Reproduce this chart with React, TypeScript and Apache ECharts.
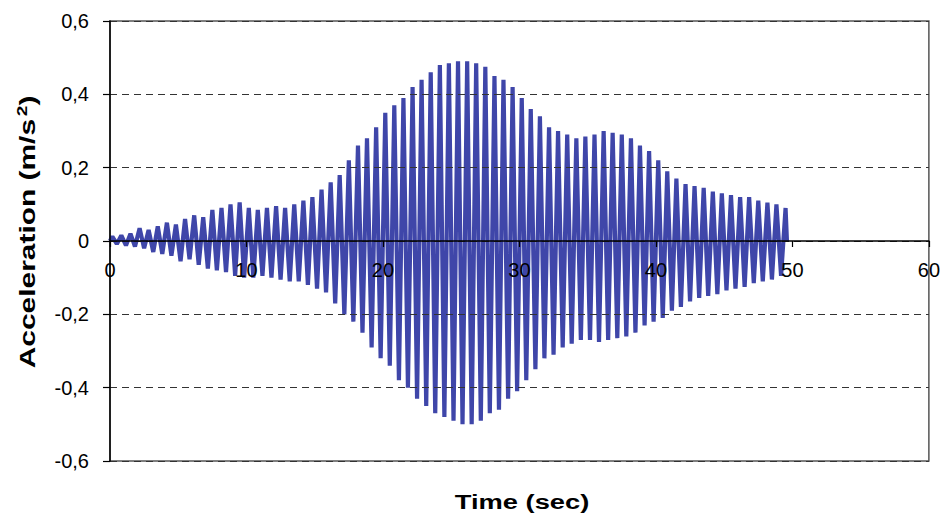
import React, { useEffect, useRef } from "react";
import * as echarts from "echarts";

const onsetPhase: [number, number][] = [
  [0, 0],
  [0.17, 0.012], [0.5, -0.008], [0.83, 0.015],
  [1.17, -0.012], [1.5, 0.02], [1.83, -0.015],
  [2.17, 0.035], [2.5, -0.02], [2.83, 0.03],
  [3.17, -0.03], [3.5, 0.04], [3.83, -0.035],
  [4.17, 0.05], [4.5, -0.04], [4.83, 0.045],
  [5.17, -0.055], [5.5, 0.06], [5.83, -0.05],
  [6.17, 0.07], [6.5, -0.065], [6.83, 0.065],
  [7.17, -0.075], [7.5, 0.085], [7.83, -0.08],
  [8.17, 0.09], [8.5, -0.085], [8.83, 0.1],
  [9.17, -0.095], [9.5, 0.105], [9.83, -0.1],
  [10.17, 0.09], [10.5, -0.1], [10.83, 0.085],
  [11.17, -0.095], [11.5, 0.09], [11.83, -0.1],
  [12.17, 0.095], [12.5, -0.105], [12.83, 0.09],
  [13.17, -0.11], [13.5, 0.1], [13.83, -0.11],
  [14.17, 0.11], [14.5, -0.12], [14.83, 0.12],
];

const strongPhase: [number, number][] = [
  [15.17, -0.13], [15.5, 0.14], [15.83, -0.14],
  [16.17, 0.16], [16.5, -0.17], [16.83, 0.18],
  [17.17, -0.2], [17.5, 0.22], [17.83, -0.22],
  [18.17, 0.26], [18.5, -0.25], [18.83, 0.28],
  [19.17, -0.29], [19.5, 0.31], [19.83, -0.32],
  [20.17, 0.35], [20.5, -0.34], [20.83, 0.37],
  [21.17, -0.38], [21.5, 0.39], [21.83, -0.4],
  [22.17, 0.42], [22.5, -0.43], [22.83, 0.44],
  [23.17, -0.45], [23.5, 0.46], [23.83, -0.47],
  [24.17, 0.48], [24.5, -0.48], [24.83, 0.485],
  [25.17, -0.49], [25.5, 0.49], [25.83, -0.5],
  [26.17, 0.49], [26.5, -0.5], [26.83, 0.485],
  [27.17, -0.49], [27.5, 0.475], [27.83, -0.47],
  [28.17, 0.45], [28.5, -0.46], [28.83, 0.44],
  [29.17, -0.43], [29.5, 0.42], [29.83, -0.41],
  [30.17, 0.39], [30.5, -0.38], [30.83, 0.36],
];

const codaPhase: [number, number][] = [
  [31.17, -0.35], [31.5, 0.34], [31.83, -0.32],
  [32.17, 0.31], [32.5, -0.31], [32.83, 0.3],
  [33.17, -0.29], [33.5, 0.29], [33.83, -0.28],
  [34.17, 0.28], [34.5, -0.27], [34.83, 0.285],
  [35.17, -0.27], [35.5, 0.29], [35.83, -0.275],
  [36.17, 0.3], [36.5, -0.27], [36.83, 0.295],
  [37.17, -0.265], [37.5, 0.29], [37.83, -0.26],
  [38.17, 0.28], [38.5, -0.25], [38.83, 0.26],
  [39.17, -0.23], [39.5, 0.245], [39.83, -0.22],
  [40.17, 0.22], [40.5, -0.21], [40.83, 0.19],
  [41.17, -0.19], [41.5, 0.17], [41.83, -0.18],
  [42.17, 0.155], [42.5, -0.165], [42.83, 0.15],
  [43.17, -0.155], [43.5, 0.145], [43.83, -0.15],
  [44.17, 0.135], [44.5, -0.145], [44.83, 0.13],
  [45.17, -0.135], [45.5, 0.125], [45.83, -0.13],
  [46.17, 0.12], [46.5, -0.125], [46.83, 0.12],
  [47.17, -0.115], [47.5, 0.11], [47.83, -0.11],
  [48.17, 0.105], [48.5, -0.105], [48.83, 0.1],
  [49.17, -0.095], [49.5, 0.09], [49.6, 0],
];

const X_MIN = 0;
const X_MAX = 60;
const X_STEP = 10;
const Y_MIN = -0.6;
const Y_MAX = 0.6;
const Y_STEP = 0.2;

const X_TITLE = "Time (sec)";
const Y_TITLE = "Acceleration (m/s{sup|2})";

const FONT = "'Liberation Sans', Arial, Helvetica, sans-serif";

const GRID_TOP = 21;
const GRID_BOTTOM = 65;
const CHART_H = 526;

export default function App() {
  const ref = useRef<HTMLDivElement>(null);

  useEffect(() => {
    if (!ref.current) return;
    const chart = echarts.init(ref.current, undefined, { renderer: "svg" });
    const data = [...onsetPhase, ...strongPhase, ...codaPhase];
    // move the x axis (line, ticks, labels) up from the grid bottom to y = 0
    const plotH = CHART_H - GRID_TOP - GRID_BOTTOM;
    const zeroShift = -(plotH * (0 - Y_MIN)) / (Y_MAX - Y_MIN);

    chart.setOption({
      animation: false,
      backgroundColor: "#ffffff",
      grid: {
        left: 110,
        right: 10,
        top: GRID_TOP,
        bottom: GRID_BOTTOM,
        show: true,
        borderColor: "#555555",
        borderWidth: 1.5,
        backgroundColor: "transparent",
      },
      xAxis: {
        type: "value",
        min: X_MIN,
        max: X_MAX,
        interval: X_STEP,
        z: 5,
        offset: zeroShift,
        axisLine: { show: true, onZero: false, lineStyle: { color: "#000", width: 1.5 } },
        axisTick: { show: true, length: 6, lineStyle: { color: "#000", width: 1.2 } },
        axisLabel: {
          show: true,
          margin: 19,
          color: "#000",
          fontSize: 20,
          fontFamily: FONT,
          showMinLabel: true,
          showMaxLabel: true,
        },
        splitLine: { show: false },
      },
      yAxis: {
        type: "value",
        min: Y_MIN,
        max: Y_MAX,
        interval: Y_STEP,
        z: 5,
        axisLine: { show: true, lineStyle: { color: "#000", width: 1.5 } },
        axisTick: { show: true, length: 7, lineStyle: { color: "#000", width: 1.2 } },
        axisLabel: {
          margin: 21,
          color: "#000",
          fontSize: 20,
          fontFamily: FONT,
          formatter: (v: number) =>
            Math.abs(v) < 1e-9 ? "0" : v.toFixed(1).replace(".", ","),
        },
        splitLine: {
          show: true,
          lineStyle: { color: "#333333", width: 1, type: [7, 5] },
        },
      },
      series: [
        {
          type: "line",
          data,
          showSymbol: false,
          symbol: "none",
          silent: true,
          z: 2,
          lineStyle: { color: "#3F46A9", width: 4.2, join: "bevel" },
        },
      ],
      graphic: [
        {
          type: "text",
          x: 522,
          y: 502,
          scaleX: 1.3,
          style: {
            text: X_TITLE,
            font: `bold 21px ${FONT}`,
            fill: "#000",
            align: "center",
            verticalAlign: "middle",
          },
        },
        {
          type: "text",
          x: 27,
          y: 232,
          rotation: Math.PI / 2,
          scaleX: 1.36,
          style: {
            text: Y_TITLE,
            font: `bold 22px ${FONT}`,
            fill: "#000",
            align: "center",
            verticalAlign: "middle",
            rich: {
              sup: {
                fontSize: 14,
                fontWeight: "bold",
                fontFamily: FONT,
                fill: "#000",
                verticalAlign: "top",
                padding: [0, 0, 10, 2],
              },
            },
          },
        },
      ],
    });

    return () => chart.dispose();
  }, []);

  return (
    <div
      ref={ref}
      style={{ position: "fixed", left: 0, top: 0, width: 943, height: 526 }}
    />
  );
}
